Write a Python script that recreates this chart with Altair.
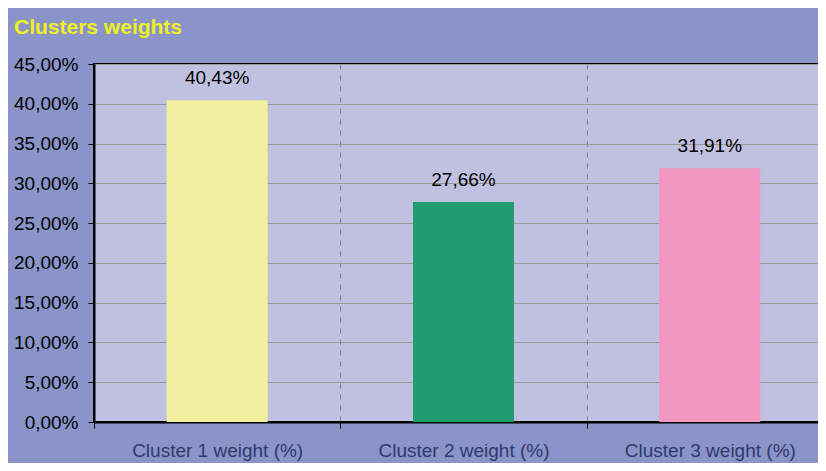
import altair as alt
import pandas as pd

categories = ["Cluster 1 weight (%)", "Cluster 2 weight (%)", "Cluster 3 weight (%)"]
values = [40.43, 27.66, 31.91]
colors = ["#F2F09E", "#1F9C70", "#F297C0"]
y_ticks = [0, 5, 10, 15, 20, 25, 30, 35, 40, 45]

labels = [f"{v:.2f}".replace(".", ",") + "%" for v in values]
df = pd.DataFrame({"cat": categories, "val": values, "label": labels})

FONT = "Liberation Sans"

x_enc = alt.X(
    "cat:N",
    sort=categories,
    scale=alt.Scale(paddingInner=0, paddingOuter=0),
    axis=alt.Axis(
        title=None,
        labelAngle=0,
        tickBand="extent",
        grid=True,
        gridDash=[5, 6],
        gridColor="#80808C",
        gridWidth=1,
        labelFont=FONT,
        labelFontSize=19,
        labelColor="#2E3A6E",
        tickColor="black",
        tickSize=6,
        tickWidth=1,
        domainColor="black",
        domainWidth=2,
        labelPadding=13,
    ),
)

y_enc = alt.Y(
    "val:Q",
    scale=alt.Scale(domain=[0, 45], nice=False),
    axis=alt.Axis(
        title=None,
        values=y_ticks,
        labelExpr="replace(format(datum.value, '.2f'), '.', ',') + '%'",
        labelFont=FONT,
        labelFontSize=19,
        labelColor="black",
        labelPadding=10,
        tickColor="black",
        tickSize=6,
        domainColor="black",
        domainWidth=2,
        gridColor="#9A9A9A",
        gridWidth=1,
    ),
)

bars = alt.Chart(df).mark_bar(width=alt.RelativeBandSize(0.41)).encode(
    x=x_enc,
    y=y_enc,
    color=alt.Color("cat:N", scale=alt.Scale(domain=categories, range=colors), legend=None),
)

text = alt.Chart(df).mark_text(
    baseline="alphabetic", dy=-16, fontSize=19, font=FONT, color="black"
).encode(x=x_enc, y=y_enc, text="label:N")

chart = (
    alt.layer(bars, text)
    .properties(
        width=739,
        height=358,
        autosize=alt.AutoSizeParams(type="none"),
        padding={"left": 86, "top": 56, "right": -15, "bottom": 41},
        background="#8A94C8",
        title=alt.Title(
            "Clusters weights",
            anchor="start",
            frame="group",
            fontSize=21,
            font=FONT,
            fontWeight="bold",
            color="#F0F020",
            dx=-80,
            offset=17,
        ),
    )
    .configure_view(fill="#C0C0E0", stroke="black", strokeWidth=2)
)

chart.save("out.html", embed_options={"renderer": "svg", "actions": False})
